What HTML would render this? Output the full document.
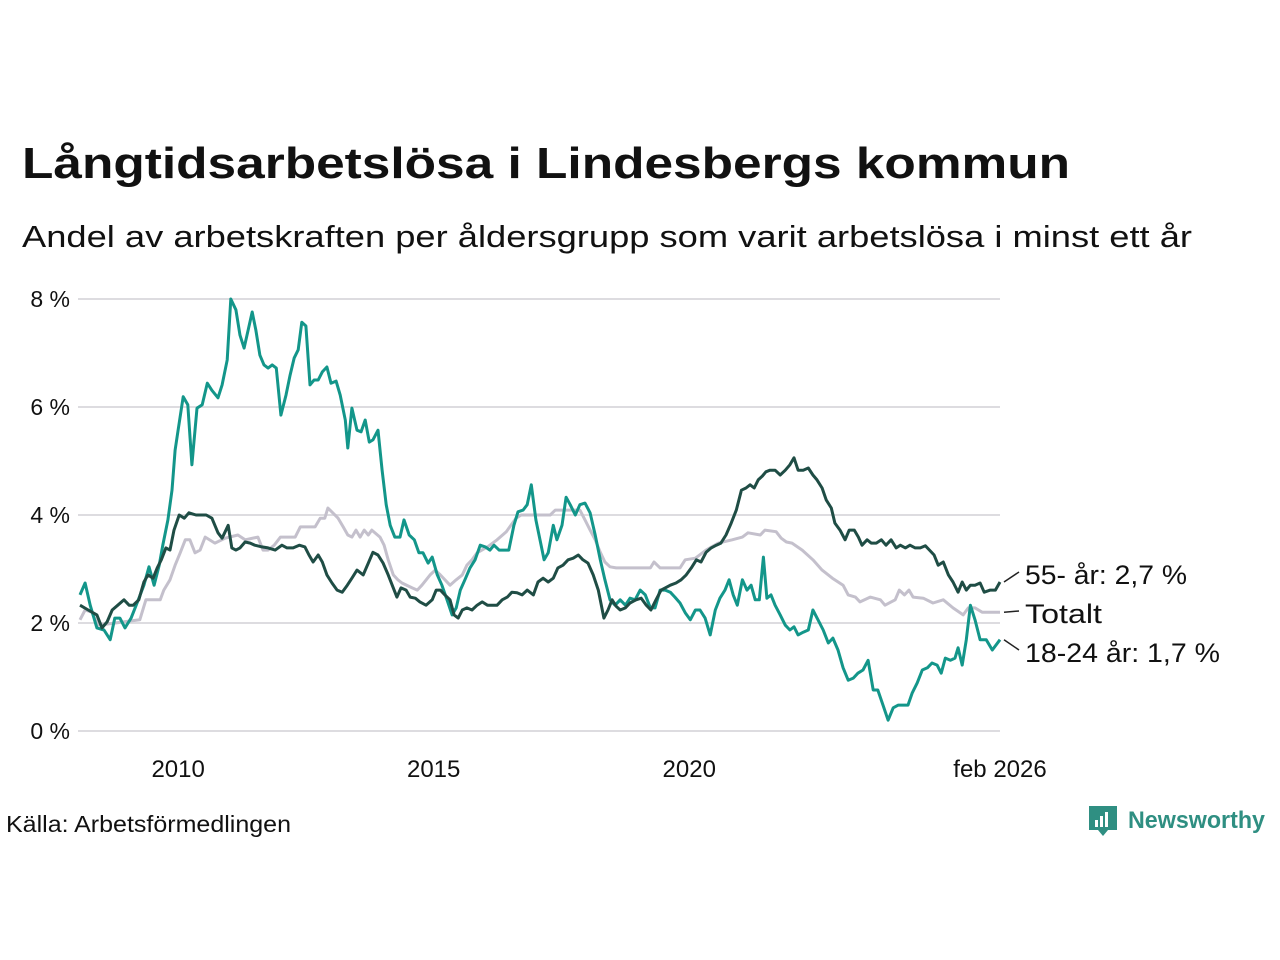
<!DOCTYPE html>
<html><head><meta charset="utf-8"><style>
html,body{margin:0;padding:0;background:#fff;}
svg{display:block;font-family:"Liberation Sans",sans-serif;}
</style></head><body>
<svg id="chart" width="1280" height="960" viewBox="0 0 1280 960">
<text x="22" y="178" font-size="44" font-weight="bold" fill="#111" textLength="1048" lengthAdjust="spacingAndGlyphs">Långtidsarbetslösa i Lindesbergs kommun</text>
<text x="22" y="247" font-size="31" fill="#111" textLength="1170" lengthAdjust="spacingAndGlyphs">Andel av arbetskraften per åldersgrupp som varit arbetslösa i minst ett år</text>
<g id="grid"></g>
<g id="yticks"></g>
<g id="xticks"></g>
<g id="lines"></g>
<g id="labels"></g>
<text x="6" y="832" font-size="23" fill="#111" textLength="285" lengthAdjust="spacingAndGlyphs">Källa: Arbetsförmedlingen</text>
<g>
<path d="M1089 806 h28 v24 h-9 l-5 6 l-5 -6 h-9 z" fill="#2f8f82"/>
<rect x="1095" y="820" width="3" height="7" fill="#fff"/><rect x="1100" y="816" width="3" height="11" fill="#fff"/><rect x="1105" y="812" width="3" height="15" fill="#fff"/>
<text x="1128" y="828" font-size="24" font-weight="bold" fill="#2f8f82" textLength="137" lengthAdjust="spacingAndGlyphs">Newsworthy</text>
</g>
</svg>
<script>
const yTicks=[0,2,4,6,8];
const yTickLabels=["0 %","2 %","4 %","6 %","8 %"];
const xTicks=[2010.0,2015.0,2020.0,2026.08];
const xTickLabels=["2010","2015","2020","feb 2026"];

const youthDates=[2008.08,2008.18,2008.28,2008.41,2008.55,2008.67,2008.76,2008.86,2008.96,2009.08,2009.22,2009.33,2009.43,2009.53,2009.63,2009.70,2009.80,2009.88,2009.94,2010.00,2010.10,2010.19,2010.27,2010.37,2010.47,2010.57,2010.66,2010.78,2010.86,2010.96,2011.03,2011.13,2011.21,2011.29,2011.37,2011.45,2011.52,2011.60,2011.68,2011.76,2011.84,2011.92,2012.01,2012.11,2012.19,2012.27,2012.35,2012.42,2012.50,2012.58,2012.66,2012.74,2012.82,2012.91,2012.99,2013.09,2013.17,2013.27,2013.32,2013.40,2013.50,2013.58,2013.66,2013.74,2013.81,2013.91,2013.99,2014.07,2014.15,2014.24,2014.34,2014.42,2014.52,2014.62,2014.71,2014.79,2014.89,2014.97,2015.07,2015.16,2015.26,2015.36,2015.44,2015.52,2015.61,2015.71,2015.81,2015.91,2016.01,2016.10,2016.18,2016.28,2016.38,2016.47,2016.57,2016.65,2016.75,2016.83,2016.91,2017.00,2017.08,2017.16,2017.24,2017.34,2017.41,2017.51,2017.59,2017.67,2017.77,2017.86,2017.96,2018.06,2018.16,2018.26,2018.35,2018.45,2018.55,2018.65,2018.75,2018.84,2018.94,2019.04,2019.14,2019.24,2019.33,2019.43,2019.53,2019.63,2019.72,2019.82,2019.92,2020.02,2020.12,2020.21,2020.31,2020.41,2020.51,2020.60,2020.70,2020.78,2020.86,2020.94,2021.04,2021.13,2021.21,2021.29,2021.37,2021.45,2021.52,2021.60,2021.68,2021.78,2021.88,2021.97,2022.05,2022.13,2022.23,2022.33,2022.42,2022.52,2022.62,2022.72,2022.81,2022.91,2023.01,2023.11,2023.21,2023.30,2023.40,2023.50,2023.60,2023.69,2023.79,2023.89,2023.99,2024.09,2024.19,2024.28,2024.36,2024.46,2024.56,2024.66,2024.75,2024.85,2024.93,2025.01,2025.11,2025.20,2025.26,2025.34,2025.42,2025.50,2025.59,2025.69,2025.81,2025.93,2026.08];
const youthValues=[2.52,2.74,2.33,1.91,1.87,1.69,2.09,2.09,1.91,2.09,2.43,2.70,3.04,2.70,3.07,3.44,3.91,4.46,5.20,5.57,6.19,6.04,4.93,5.98,6.04,6.44,6.31,6.17,6.41,6.87,8.0,7.80,7.33,7.09,7.43,7.76,7.43,6.96,6.78,6.72,6.78,6.72,5.85,6.22,6.59,6.91,7.06,7.57,7.50,6.41,6.50,6.50,6.65,6.74,6.44,6.48,6.22,5.76,5.24,5.98,5.57,5.54,5.76,5.35,5.39,5.57,4.83,4.19,3.81,3.59,3.59,3.91,3.63,3.54,3.30,3.30,3.11,3.22,2.89,2.70,2.43,2.15,2.28,2.61,2.80,3.02,3.17,3.44,3.41,3.35,3.44,3.35,3.35,3.35,3.81,4.06,4.09,4.19,4.56,3.91,3.54,3.17,3.30,3.81,3.54,3.81,4.33,4.19,4.00,4.19,4.22,4.04,3.63,3.17,2.80,2.43,2.33,2.43,2.33,2.46,2.43,2.61,2.52,2.28,2.28,2.61,2.61,2.57,2.48,2.37,2.19,2.06,2.24,2.24,2.09,1.78,2.24,2.46,2.61,2.80,2.52,2.33,2.80,2.61,2.70,2.43,2.43,3.22,2.46,2.52,2.33,2.15,1.96,1.87,1.93,1.78,1.83,1.87,2.24,2.06,1.87,1.63,1.72,1.50,1.17,0.94,0.98,1.07,1.13,1.31,0.76,0.76,0.48,0.20,0.43,0.48,0.48,0.48,0.70,0.89,1.13,1.17,1.26,1.22,1.07,1.35,1.31,1.35,1.54,1.22,1.69,2.33,2.06,1.69,1.69,1.50,1.69];

const seniorDates=[2008.08,2008.24,2008.41,2008.51,2008.61,2008.71,2008.82,2008.94,2009.04,2009.12,2009.23,2009.33,2009.41,2009.51,2009.59,2009.67,2009.76,2009.84,2009.92,2010.02,2010.12,2010.21,2010.35,2010.55,2010.66,2010.78,2010.86,2010.98,2011.05,2011.13,2011.21,2011.31,2011.41,2011.50,2011.64,2011.76,2011.90,2012.03,2012.13,2012.25,2012.37,2012.48,2012.56,2012.64,2012.74,2012.82,2012.91,2013.01,2013.11,2013.21,2013.31,2013.40,2013.50,2013.62,2013.72,2013.81,2013.91,2014.01,2014.11,2014.21,2014.28,2014.36,2014.46,2014.54,2014.64,2014.73,2014.85,2014.97,2015.05,2015.13,2015.22,2015.32,2015.40,2015.48,2015.56,2015.65,2015.75,2015.85,2015.95,2016.05,2016.14,2016.24,2016.34,2016.44,2016.53,2016.63,2016.73,2016.83,2016.95,2017.04,2017.14,2017.24,2017.34,2017.43,2017.53,2017.63,2017.73,2017.83,2017.92,2018.02,2018.12,2018.22,2018.33,2018.41,2018.49,2018.57,2018.65,2018.75,2018.84,2018.96,2019.06,2019.16,2019.25,2019.35,2019.45,2019.53,2019.63,2019.74,2019.84,2019.94,2020.04,2020.14,2020.23,2020.33,2020.43,2020.53,2020.62,2020.72,2020.82,2020.92,2021.02,2021.11,2021.19,2021.27,2021.35,2021.43,2021.50,2021.58,2021.68,2021.78,2021.88,2021.97,2022.05,2022.13,2022.23,2022.33,2022.42,2022.50,2022.60,2022.68,2022.78,2022.85,2022.95,2023.05,2023.13,2023.23,2023.31,2023.38,2023.48,2023.56,2023.66,2023.76,2023.85,2023.95,2024.05,2024.13,2024.23,2024.32,2024.42,2024.52,2024.62,2024.70,2024.79,2024.87,2024.97,2025.07,2025.16,2025.26,2025.34,2025.42,2025.50,2025.59,2025.69,2025.77,2025.89,2025.99,2026.08];
const seniorValues=[2.33,2.24,2.15,1.91,2.02,2.24,2.33,2.43,2.33,2.33,2.43,2.76,2.89,2.83,3.02,3.17,3.39,3.35,3.72,4.00,3.94,4.04,4.00,4.00,3.94,3.67,3.57,3.81,3.39,3.35,3.39,3.50,3.48,3.44,3.41,3.39,3.35,3.44,3.39,3.39,3.44,3.41,3.26,3.13,3.26,3.13,2.89,2.74,2.61,2.57,2.70,2.83,2.98,2.89,3.11,3.31,3.26,3.11,2.89,2.65,2.48,2.65,2.61,2.48,2.46,2.39,2.33,2.43,2.61,2.61,2.52,2.43,2.15,2.09,2.24,2.28,2.24,2.33,2.39,2.33,2.33,2.33,2.43,2.48,2.57,2.56,2.52,2.61,2.52,2.76,2.83,2.76,2.83,3.02,3.07,3.17,3.20,3.26,3.17,3.11,2.89,2.61,2.09,2.24,2.43,2.31,2.24,2.28,2.37,2.43,2.46,2.33,2.24,2.43,2.61,2.65,2.70,2.74,2.80,2.89,3.02,3.17,3.13,3.31,3.39,3.44,3.48,3.63,3.85,4.09,4.46,4.50,4.56,4.50,4.65,4.72,4.80,4.83,4.83,4.74,4.83,4.93,5.06,4.83,4.83,4.87,4.74,4.65,4.50,4.28,4.13,3.85,3.72,3.54,3.72,3.72,3.59,3.44,3.54,3.48,3.48,3.54,3.44,3.54,3.39,3.44,3.39,3.44,3.39,3.39,3.43,3.35,3.26,3.07,3.13,2.89,2.76,2.57,2.76,2.61,2.70,2.70,2.74,2.57,2.61,2.61,2.76];

const totalDates=[2008.08,2008.18,2008.31,2008.43,2009.25,2009.37,2009.65,2009.72,2009.84,2009.94,2010.04,2010.14,2010.23,2010.33,2010.43,2010.53,2010.72,2010.92,2011.17,2011.31,2011.56,2011.66,2011.76,2011.88,2012.00,2012.29,2012.39,2012.68,2012.78,2012.87,2012.93,2013.13,2013.23,2013.32,2013.40,2013.48,2013.56,2013.64,2013.72,2013.79,2013.95,2014.03,2014.11,2014.21,2014.30,2014.38,2014.58,2014.68,2014.77,2014.93,2015.03,2015.13,2015.32,2015.44,2015.56,2015.65,2015.75,2015.85,2016.05,2016.24,2016.42,2016.61,2016.71,2017.28,2017.38,2017.86,2017.96,2018.06,2018.16,2018.26,2018.35,2018.45,2018.57,2019.24,2019.31,2019.43,2019.82,2019.92,2020.12,2020.33,2020.57,2020.84,2021.04,2021.15,2021.39,2021.48,2021.70,2021.80,2021.90,2022.01,2022.21,2022.42,2022.60,2022.80,2023.01,2023.11,2023.25,2023.34,2023.54,2023.74,2023.83,2024.03,2024.11,2024.21,2024.30,2024.38,2024.58,2024.77,2024.97,2025.16,2025.36,2025.46,2025.59,2025.73,2026.08];
const totalValues=[2.06,2.24,2.20,1.96,2.06,2.43,2.43,2.61,2.80,3.07,3.30,3.54,3.54,3.30,3.35,3.59,3.48,3.57,3.63,3.54,3.59,3.35,3.35,3.44,3.59,3.59,3.78,3.78,3.94,3.94,4.13,3.94,3.78,3.63,3.59,3.72,3.59,3.72,3.63,3.72,3.59,3.44,3.17,2.89,2.80,2.74,2.65,2.61,2.70,2.89,2.98,2.89,2.70,2.80,2.89,3.07,3.17,3.30,3.41,3.54,3.69,3.94,4.00,4.00,4.09,4.09,3.91,3.72,3.54,3.31,3.13,3.04,3.02,3.02,3.13,3.02,3.02,3.17,3.20,3.35,3.48,3.54,3.59,3.67,3.63,3.72,3.69,3.57,3.50,3.48,3.35,3.17,2.98,2.83,2.70,2.52,2.48,2.39,2.48,2.43,2.33,2.43,2.61,2.52,2.61,2.48,2.46,2.37,2.43,2.28,2.15,2.28,2.28,2.20,2.20];

const NS="http://www.w3.org/2000/svg";
const X0=80,X1=1000,T0=2008.08,T1=2026.08;
function xs(t){return X0+(t-T0)/(T1-T0)*(X1-X0);}
function ys(v){return 731-v*54;}
function mk(tag,attrs,parent){const e=document.createElementNS(NS,tag);for(const k in attrs)e.setAttribute(k,attrs[k]);parent.appendChild(e);return e;}

const grid=document.getElementById('grid'),yt=document.getElementById('yticks'),xt=document.getElementById('xticks');
yTicks.forEach((v,i)=>{
  const l=mk('line',{x1:78,x2:1000,y1:ys(v),y2:ys(v),stroke:'#dddce0','stroke-width':2},grid);
  
  
  const t=mk('text',{x:70,y:ys(v)+8,'text-anchor':'end','font-size':23,fill:'#111'},yt);
  t.textContent=yTickLabels[i];
  
  
});
xTicks.forEach((v,i)=>{
  const t=mk('text',{x:xs(v),y:777,'text-anchor':'middle','font-size':24,fill:'#111'},xt);
  t.textContent=xTickLabels[i];
  
  
});
const lines=document.getElementById('lines');
function draw(d,v,color,name){
  const p=mk('polyline',{points:d.map((t,i)=>xs(t).toFixed(1)+','+ys(v[i]).toFixed(1)).join(' '),fill:'none',stroke:color,'stroke-width':3,'stroke-linejoin':'round'},lines);
  
  
}
draw(totalDates,totalValues,'#c4c0cc','line-totalt');
draw(youthDates,youthValues,'#13968a','line-18-24');
draw(seniorDates,seniorValues,'#1f4d45','line-55');

const lab=document.getElementById('labels');
const labelDefs=[
 {txt:'55- år: 2,7 %',v:seniorValues[seniorValues.length-1],ly:575,w:162,name:'label-55'},
 {txt:'Totalt',v:totalValues[totalValues.length-1],ly:614,w:77,name:'label-totalt'},
 {txt:'18-24 år: 1,7 %',v:youthValues[youthValues.length-1],ly:653,w:195,name:'label-18-24'}];
labelDefs.forEach(o=>{
  const l=mk('line',{x1:1004,y1:ys(o.v),x2:1019,y2:o.ly-3,stroke:'#222','stroke-width':1.5},lab);
  
  
  const t=mk('text',{x:1025,y:o.ly+9,'font-size':27,fill:'#111',textLength:o.w,lengthAdjust:'spacingAndGlyphs'},lab);
  t.textContent=o.txt;
  
  
});
</script>
</body></html>
